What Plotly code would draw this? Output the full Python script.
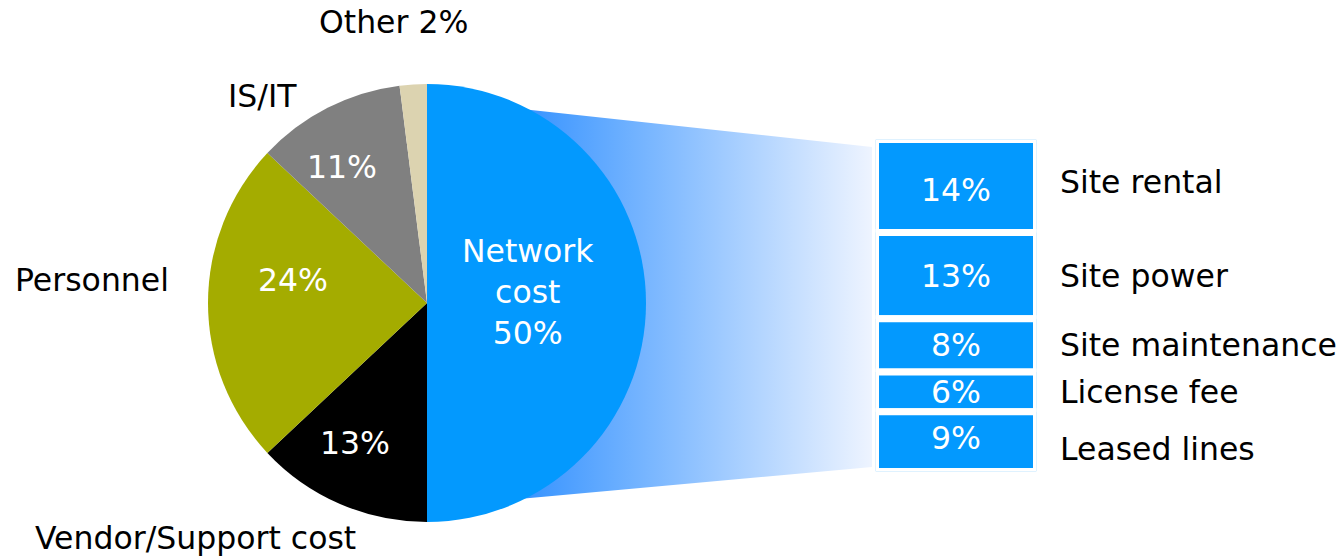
import plotly.graph_objects as go
import numpy as np

W, H = 1344, 556

# ---- data ----
pie_labels = ["Network cost", "Vendor/Support cost", "Personnel", "IS/IT", "Other"]
pie_values = [50, 13, 24, 11, 2]
pie_colors = ["#0399FE", "#000000", "#A4AC00", "#808080", "#DCD3B0"]

sub_labels = ["Site rental", "Site power", "Site maintenance", "License fee", "Leased lines"]
sub_values = [14, 13, 8, 6, 9]
bar_color = "#0399FE"

FONT = "Verdana, DejaVu Sans, sans-serif"
FS = 31.5

def px(x):
    return x / W

def py(y):
    return 1 - y / H

# pie geometry (pixels)
cx, cy, r = 427, 303, 219
# bar geometry (pixels)
bx0, bx1, by0, by1 = 879, 1033, 143, 468
gap = 7

fig = go.Figure()

# gradient connector (pixel-space axis)
top_left_y = cy - np.sqrt(r**2 - 103**2) - 11
bot_left_y = cy + np.sqrt(r**2 - 101**2) + 10
conn_x = [cx, bx0 - gap, bx0 - gap, cx, cx]
conn_y = [top_left_y, by0 + 4, by1 - 1, bot_left_y, top_left_y]
fig.add_trace(go.Scatter(
    x=conn_x, y=conn_y, mode="lines", fill="toself",
    line=dict(width=0, color="rgba(0,0,0,0)"),
    fillgradient=dict(type="horizontal", start=530, stop=bx0 - gap,
                      colorscale=[[0, "#3A95FF"], [1, "#EEF4FF"]]),
    xaxis="x3", yaxis="y3", hoverinfo="skip", showlegend=False))

# pie
fig.add_trace(go.Pie(
    labels=pie_labels, values=pie_values, sort=False, direction="clockwise",
    rotation=0, marker=dict(colors=pie_colors, line=dict(width=0)),
    textinfo="none", hoverinfo="label+percent", showlegend=False,
    domain=dict(x=[px(cx - r), px(cx + r)], y=[py(cy + r), py(cy - r)])))

# stacked breakdown bar
bases = np.concatenate([[0], np.cumsum(sub_values)[:-1]])
fig.add_trace(go.Bar(
    x=[0] * len(sub_values), y=sub_values, base=bases, width=1,
    marker=dict(color=bar_color, line=dict(color="white", width=gap)),
    xaxis="x2", yaxis="y2", showlegend=False, hoverinfo="skip"))

total = sum(sub_values)
mids = bases + np.array(sub_values) / 2

val_shift = [-4, 0, 0, 0, 4]
lab_shift = [4, 0, 0, 0, -7]

annotations = []
for i, (lab, val, m) in enumerate(zip(sub_labels, sub_values, mids)):
    annotations.append(dict(x=0, y=m, xref="x2", yref="y2", text=f"{val}%",
                            xanchor="center", yanchor="middle", yshift=val_shift[i],
                            showarrow=False, font=dict(color="white", size=FS, family=FONT)))
    annotations.append(dict(x=px(1058), y=m, xref="paper", yref="y2", text=lab,
                            xanchor="left", yanchor="middle", yshift=lab_shift[i],
                            showarrow=False,
                            font=dict(color="black", size=FS, family=FONT)))

# pie labels
outer = [
    ("Other 2%", 393, 22),
    ("IS/IT", 262, 96),
    ("Personnel", 92, 280),
    ("Vendor/Support cost", 195, 538),
]
for t, x, y in outer:
    annotations.append(dict(x=px(x), y=py(y), xref="paper", yref="paper", text=t,
                            xanchor="center", yanchor="middle",
                            showarrow=False, font=dict(color="black", size=FS, family=FONT)))
inner = [
    (f"Network<br>cost<br>{pie_values[0]}%", 528, 292),
    (f"{pie_values[2]}%", 293, 280),
    (f"{pie_values[3]}%", 342, 167),
    (f"{pie_values[1]}%", 355, 443),
]
for t, x, y in inner:
    annotations.append(dict(x=px(x), y=py(y), xref="paper", yref="paper", text=t,
                            xanchor="center", yanchor="middle",
                            showarrow=False, font=dict(color="white", size=FS, family=FONT)))

half = gap / 2
fig.update_layout(
    width=W, height=H, margin=dict(l=0, r=0, t=0, b=0),
    paper_bgcolor="white", plot_bgcolor="rgba(0,0,0,0)",
    xaxis=dict(visible=False),
    yaxis=dict(visible=False),
    xaxis2=dict(domain=[px(bx0 - half), px(bx1 + half)], range=[-0.5, 0.5],
                visible=False, anchor="y2", fixedrange=True),
    yaxis2=dict(domain=[py(by1 + half), py(by0 - half)], range=[total, 0],
                visible=False, anchor="x2", fixedrange=True),
    xaxis3=dict(domain=[0, 1], range=[0, W], visible=False, anchor="y3"),
    yaxis3=dict(domain=[0, 1], range=[H, 0], visible=False, anchor="x3"),
    annotations=annotations,
    showlegend=False,
)

fig.write_html("out.html")
